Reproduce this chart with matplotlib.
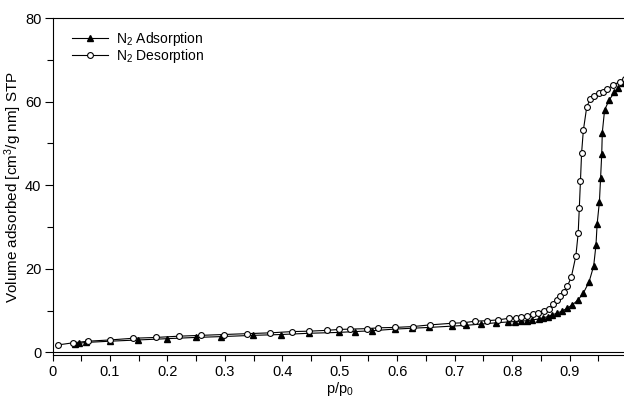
import numpy as np
import matplotlib
matplotlib.use('Agg')
import matplotlib.pyplot as plt
from matplotlib.ticker import MultipleLocator, FixedLocator

plt.rcParams['font.family'] = ['Liberation Sans', 'DejaVu Sans']
plt.rcParams['mathtext.fontset'] = 'custom'
plt.rcParams['mathtext.rm'] = 'Liberation Sans'
plt.rcParams['mathtext.it'] = 'Liberation Sans'

# N2 adsorption branch (p/p0, volume)
ads_p = [0.039, 0.046, 0.058, 0.100, 0.149, 0.199, 0.249, 0.294, 0.349, 0.398,
         0.447, 0.498, 0.526, 0.556, 0.596, 0.626, 0.656, 0.695, 0.720, 0.746,
         0.772, 0.793, 0.805, 0.815, 0.826, 0.835, 0.846, 0.854, 0.863, 0.870,
         0.878, 0.887, 0.896, 0.905, 0.915, 0.924, 0.934, 0.942, 0.946, 0.948,
         0.952, 0.954, 0.956, 0.957, 0.961, 0.969, 0.978, 0.985, 0.993]
ads_v = [2.0, 2.2, 2.4, 2.7, 3.0, 3.3, 3.6, 3.8, 4.1, 4.3,
         4.6, 4.8, 5.0, 5.2, 5.6, 5.8, 6.0, 6.3, 6.5, 6.8,
         7.1, 7.3, 7.4, 7.5, 7.6, 7.8, 8.0, 8.3, 8.6, 9.0,
         9.4, 9.9, 10.6, 11.4, 12.6, 14.2, 16.9, 20.7, 25.7, 30.7,
         36.1, 41.7, 47.4, 52.6, 58.0, 60.4, 62.2, 63.2, 64.4]

# N2 desorption branch
des_p = [0.009, 0.035, 0.062, 0.100, 0.140, 0.180, 0.220, 0.259, 0.298, 0.338,
         0.379, 0.417, 0.447, 0.478, 0.498, 0.518, 0.547, 0.567, 0.597, 0.627,
         0.657, 0.696, 0.715, 0.736, 0.756, 0.776, 0.795, 0.806, 0.816, 0.826,
         0.836, 0.845, 0.855, 0.865, 0.872, 0.878, 0.884, 0.890, 0.896, 0.903,
         0.911, 0.915, 0.917, 0.919, 0.921, 0.924, 0.930, 0.936, 0.943, 0.951,
         0.958, 0.966, 0.976, 0.987, 0.996]
des_v = [1.8, 2.3, 2.7, 3.0, 3.4, 3.6, 3.9, 4.1, 4.3, 4.5,
         4.7, 5.0, 5.1, 5.3, 5.5, 5.6, 5.7, 5.9, 6.0, 6.2,
         6.6, 7.0, 7.1, 7.5, 7.6, 7.8, 8.2, 8.3, 8.6, 8.8,
         9.1, 9.5, 9.9, 10.5, 11.5, 12.5, 13.4, 14.5, 15.8, 18.0,
         23.1, 28.5, 34.6, 41.1, 47.8, 53.1, 58.8, 60.6, 61.4, 62.0,
         62.2, 63.0, 64.0, 64.7, 65.5]

x_ticks = [0, 0.1, 0.2, 0.3, 0.4, 0.5, 0.6, 0.7, 0.8, 0.9, 1.0]
x_labels = ['0', '0.1', '0.2', '0.3', '0.4', '0.5', '0.6', '0.7', '0.8', '0.9', '1']

fig = plt.figure(figsize=(6.24, 3.99), dpi=100)
ax = fig.add_axes([52.5 / 624, 44 / 399, 574.5 / 624, 337 / 399])

ax.plot(ads_p, ads_v, color='black', lw=0.8, marker='^', ms=4,
        mfc='black', mec='black', label='N$_2$ Adsorption')
ax.plot(des_p, des_v, color='black', lw=0.8, marker='o', ms=4.2,
        mfc='white', mec='black', mew=0.8, label='N$_2$ Desorption')
ax.axhline(0, color='black', lw=0.8)

ax.set_xlim(0, 1)
ax.set_ylim(-0.6, 80)
ax.set_xticks(x_ticks)
ax.set_xticklabels(x_labels)
ax.xaxis.set_minor_locator(MultipleLocator(0.05))
ax.set_yticks([0, 20, 40, 60, 80])
ax.yaxis.set_minor_locator(FixedLocator([10, 30, 50, 70]))
ax.tick_params(axis='both', which='both', direction='out', labelsize=10.5,
               width=0.8, top=False, right=False)
ax.tick_params(axis='x', which='both', length=4, pad=3)
ax.tick_params(axis='y', which='major', length=6, pad=2)
ax.tick_params(axis='y', which='minor', length=4)
for s in ax.spines.values():
    s.set_linewidth(0.8)

ax.set_xlabel('p/p$_0$', fontsize=10.5, labelpad=1)
ax.set_ylabel('Volume adsorbed [cm$^3$/g nm] STP', fontsize=11, labelpad=1)

ax.legend(loc='upper left', frameon=False, fontsize=10, handlelength=2.6,
          handletextpad=0.6, labelspacing=-0.08, borderaxespad=0.0,
          bbox_to_anchor=(0.024, 0.98))

fig.savefig('out.png', dpi=100)
